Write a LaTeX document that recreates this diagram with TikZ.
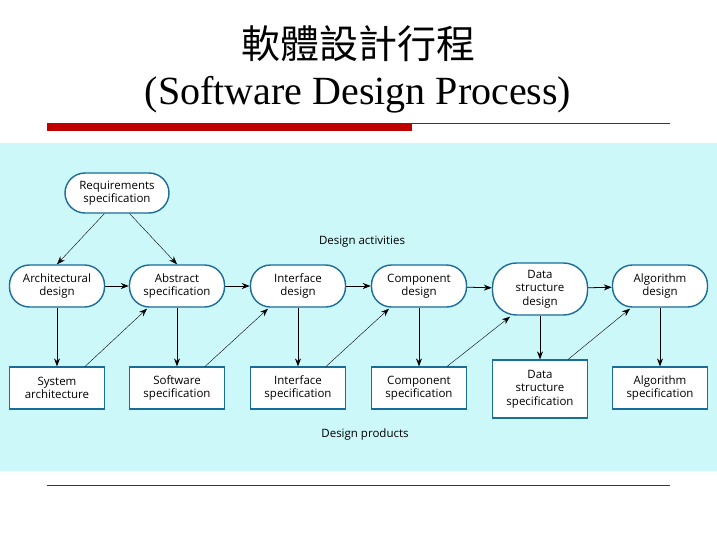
\documentclass[tikz,border=0pt]{standalone}
\usepackage{fontspec}
\setmainfont{Liberation Serif}
\newfontfamily\cjk{Noto Sans CJK TC}
\newfontfamily\dsans{Open Sans}
\usetikzlibrary{arrows.meta}
\definecolor{bg}{HTML}{CCF8FA}
\definecolor{bord}{HTML}{1A6C9A}
\definecolor{redbar}{HTML}{C00000}
\begin{document}
\begin{tikzpicture}[x=1pt,y=-1pt,
 proc/.style={draw=bord,line width=1.4pt,fill=white,rounded corners=20pt,minimum width=95pt,minimum height=42pt,align=center,font=\dsans\fontsize{11.5}{13.5}\selectfont,inner sep=1pt},
 prod/.style={draw=bord,line width=1.2pt,fill=white,minimum width=95pt,minimum height=42pt,align=center,font=\dsans\fontsize{11.5}{13.5}\selectfont,inner sep=1pt},
 arr/.style={-{Stealth[length=8pt,width=6pt]},line width=0.8pt},
 thin/.style={-{Stealth[length=8pt,width=6pt]},line width=0.4pt}]
\useasboundingbox (0,0) rectangle (717,538);
\fill[bg] (0,143) rectangle (717,471);
\node[font=\cjk\fontsize{39}{42}\selectfont] (t1) at (358,44) {軟體設計行程};
\node[font=\fontsize{40}{44}\selectfont] (t2) at (358,95) {(Software Design Process)};
\fill[redbar] (47,123) rectangle (412,131);
\draw[redbar,line width=0.8pt] (412,123) -- (670,123);
\draw[redbar,line width=0.8pt] (47,485) -- (670,485);
\node[proc,minimum width=104pt,minimum height=40pt] (req) at (117,193) {Requirements\\specification};
\node[proc] (a1) at (57,286) {Architectural\\design};
\node[proc] (a2) at (177,286) {Abstract\\specification};
\node[proc] (a3) at (298,286) {Interface\\design};
\node[proc] (a4) at (419,286) {Component\\design};
\node[proc,minimum height=52pt,rounded corners=24pt] (a5) at (540,289) {Data\\structure\\design};
\node[proc] (a6) at (660,286) {Algorithm\\design};
\node[prod] (p1) at (57,388) {System\\architecture};
\node[prod] (p2) at (177,388) {Software\\specification};
\node[prod] (p3) at (298,388) {Interface\\specification};
\node[prod] (p4) at (419,388) {Component\\specification};
\node[prod,minimum height=58pt] (p5) at (540,389) {Data\\structure\\specification};
\node[prod] (p6) at (660,388) {Algorithm\\specification};
\node[font=\dsans\fontsize{11.5}{13.5}\selectfont] (l1) at (362,242) {Design activities};
\node[font=\dsans\fontsize{11.5}{13.5}\selectfont] (l2) at (365,435) {Design products};
\draw[thin] (req.south west)++(40,0) -- (a1.north);
\draw[thin] (req.south east)++(-40,0) -- (a2.north);
\foreach \i/\j in {a1/a2,a2/a3,a3/a4,a4/a5,a5/a6}{\draw[arr] (\i) -- (\j);}
\foreach \i in {1,...,6}{\draw[arr] (a\i) -- (p\i);}
\foreach \i/\j in {1/2,2/3,3/4,4/5,5/6}{\draw[thin] (p\i.north east) ++(-20,0) -- ([xshift=-30pt,yshift=-1pt]a\j.south);}
\end{tikzpicture}
\end{document}
